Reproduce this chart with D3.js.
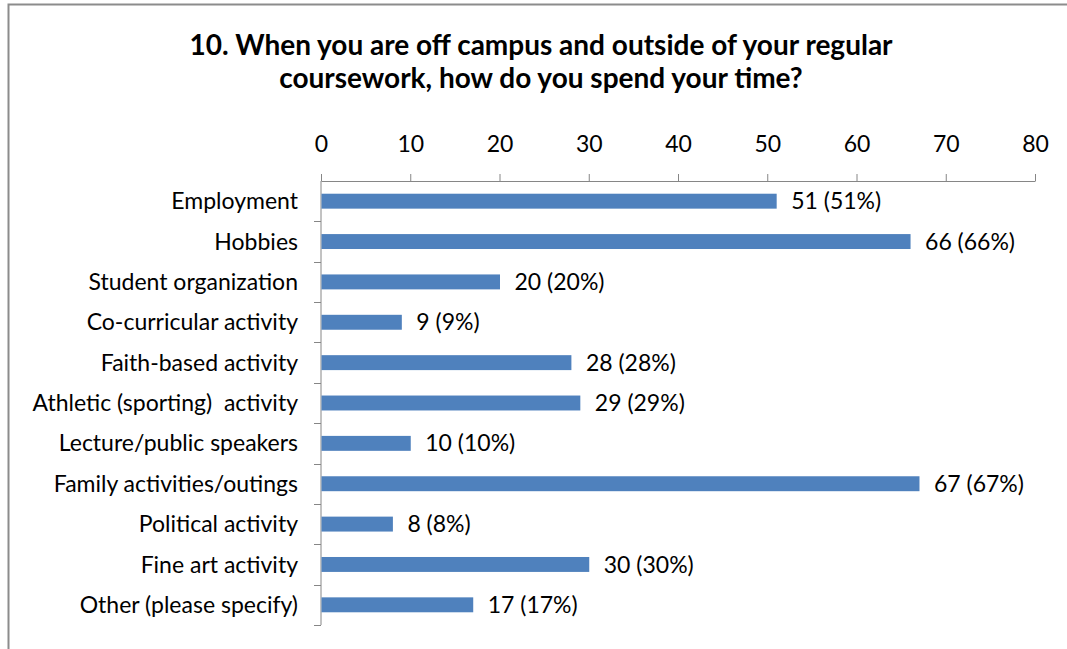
<!DOCTYPE html>
<html><head><meta charset="utf-8">
<script src="https://cdn.jsdelivr.net/npm/d3@7"></script>
<style>body{margin:0;background:#fff;}text{font-family:Lato,"Open Sans",sans-serif;}</style>
</head><body>
<svg id="c" width="1067" height="649"></svg>
<script>
const categories = ["Employment","Hobbies","Student organization","Co-curricular activity","Faith-based activity","Athletic (sporting)  activity","Lecture/public speakers","Family activities/outings","Political activity","Fine art activity","Other (please specify)"];
const values = [51,66,20,9,28,29,10,67,8,30,17];
const percents = [51,66,20,9,28,29,10,67,8,30,17];
const tickValues = [0,10,20,30,40,50,60,70,80];
const titleLines = ["10. When you are off campus and outside of your regular","coursework, how do you spend your time?"];

const svg = d3.select("#c");
svg.append("path").attr("d","M8.5,649 V4.5 H1067").attr("fill","none").attr("stroke","#8c8c8c").attr("stroke-width",2);

svg.append("g").selectAll("text").data(titleLines).join("text")
  .attr("x",541).attr("y",(d,i)=>55+i*33).attr("text-anchor","middle")
  .attr("font-size",28).attr("font-weight","bold").attr("fill","#000").text(d=>d);

const x = d3.scaleLinear().domain([0,80]).range([321,1035]);
const y = d3.scaleBand().domain(categories).range([181,625]).paddingInner(0.63).paddingOuter(0.315);
const yb = d3.scaleBand().domain(categories).range([181,625]);

const ax = svg.append("g").attr("transform","translate(0,181)")
  .call(d3.axisTop(x).tickValues(tickValues).tickSize(7).tickSizeOuter(0).tickPadding(22));
ax.select(".domain").attr("stroke","#868686");
ax.selectAll(".tick line").attr("stroke","#868686");
ax.selectAll(".tick text").attr("font-size",23).attr("fill","#000").style("font-family","Lato");

const ay = svg.append("g");
ay.append("line").attr("x1",321).attr("x2",321).attr("y1",181).attr("y2",625).attr("stroke","#868686");
ay.selectAll("line.t").data(categories).join("line").attr("class","t")
  .attr("x1",314).attr("x2",321).attr("y1",d=>Math.round(yb(d)+yb.bandwidth())+0.5).attr("y2",d=>Math.round(yb(d)+yb.bandwidth())+0.5).attr("stroke","#868686");
ay.selectAll("text").data(categories).join("text")
  .attr("x",298).attr("y",d=>yb(d)+yb.bandwidth()/2).attr("dy","0.35em").attr("text-anchor","end")
  .attr("font-size",23).attr("fill","#000").attr("xml:space","preserve").text(d=>d);

svg.append("g").selectAll("rect").data(categories).join("rect")
  .attr("x",x(0)+0.5).attr("y",d=>y(d)).attr("height",y.bandwidth())
  .attr("width",(d,i)=>x(values[i])-x(0)).attr("fill","#4F81BD");

svg.append("g").selectAll("text").data(categories).join("text")
  .attr("x",(d,i)=>x(values[i])+15).attr("y",d=>yb(d)+yb.bandwidth()/2).attr("dy","0.35em")
  .attr("font-size",23).attr("fill","#000").text((d,i)=>values[i]+" ("+percents[i]+"%)");
</script>
</body></html>
